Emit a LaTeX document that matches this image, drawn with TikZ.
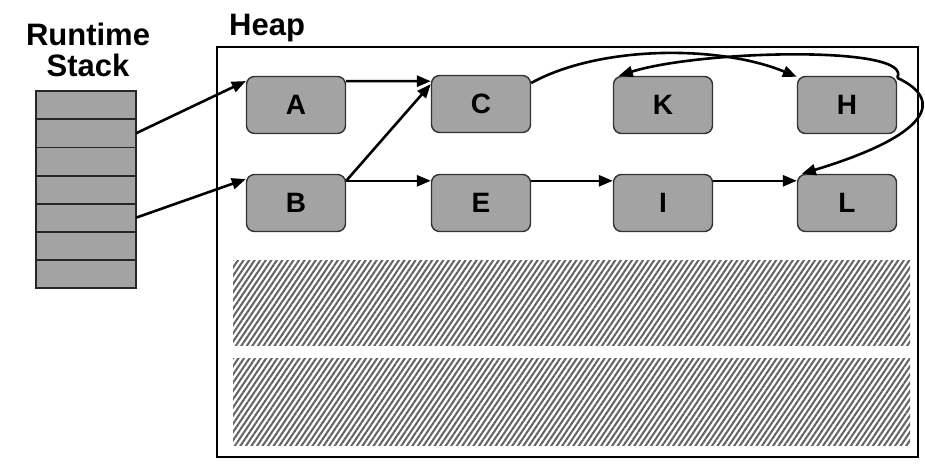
\documentclass[tikz,border=0pt]{standalone}
\usepackage{fontspec}
\setmainfont{Liberation Sans}
\usetikzlibrary{arrows.meta,patterns.meta,calc}
\begin{document}
\begin{tikzpicture}[x=1pt,y=-1pt,
  obj/.style={draw=black!80,line width=1.4pt,fill=black!36,rounded corners=8pt,
    minimum width=99pt,minimum height=57pt,inner sep=0pt,font=\fontsize{28}{32}\selectfont\bfseries},
  cell/.style={fill=black!36,minimum width=100pt,minimum height=28.14pt,inner sep=0pt},
  cellline/.style={draw=black!85,line width=1.8pt},
  ptr/.style={line width=2.6pt,-{Triangle[length=14pt,width=11pt]}},
  hatch/.style={pattern={Lines[angle=56,distance=4.6pt,line width=2pt]},pattern color=black!62},
  lbl/.style={font=\fontsize{31}{35}\selectfont\bfseries,inner sep=0pt}]
\useasboundingbox (0,0) rectangle (925,465);
% labels
\node[lbl,anchor=base] (rt) at (88,46) {Runtime};
\node[lbl,anchor=base] (st) at (88,77) {Stack};
\node[lbl,anchor=base west] (hp) at (229,36) {Heap};
% heap box
\draw[line width=2pt] (217,47) rectangle (918,457);
% hatched areas
\path[hatch] (233,260) rectangle (910,345);
\path[hatch] (233,358) rectangle (910,445);
% stack
\foreach \i in {1,...,7}{
  \node[cell] (s\i) at (86,{91+28.14*(\i-0.5)}) {};
}
\draw[cellline] (s1.north west) rectangle (s7.south east);
\foreach \i in {1,...,6}{
  \draw[cellline] (s\i.south west) -- (s\i.south east);
}
% objects
\node[obj] (A) at (296,105) {A};
\node[obj] (C) at (481,104) {C};
\node[obj] (K) at (663,105) {K};
\node[obj] (H) at (847,105) {H};
\node[obj] (B) at (296,203) {B};
\node[obj] (E) at (481,203) {E};
\node[obj] (I) at (663,203) {I};
\node[obj] (L) at (847,203) {L};
% pointers
\draw[ptr] (s2.east) -- ($(A.north west)!0.09!(A.south west)$);
\draw[ptr] (s5.east) -- ($(B.north west)!0.09!(B.south west)$);
\draw[ptr] ($(A.north east)!0.09!(A.south east)$) -- ($(C.north west)!0.11!(C.south west)$);
\draw[ptr] ($(B.north east)!0.12!(B.south east)$) -- ($(C.north west)!0.16!(C.south west)$);
\draw[ptr] ($(B.north east)!0.12!(B.south east)$) -- ($(E.north west)!0.12!(E.south west)$);
\draw[ptr] ($(E.north east)!0.12!(E.south east)$) -- ($(I.north west)!0.12!(I.south west)$);
\draw[ptr] ($(I.north east)!0.12!(I.south east)$) -- ($(L.north west)!0.12!(L.south west)$);
\draw[ptr] ($(C.north east)!0.14!(C.south east)$) .. controls (600,45) and (720,45) .. ($(H.north west)+(0,1)$);
\draw[ptr] ($(H.north east)+(0,2)$) .. controls (915,45) and (700,50) .. ($(K.north west)+(6,0)$);
\draw[ptr] ($(H.north east)+(0,2)$) .. controls (945,100) and (930,135) .. ($(L.north west)+(5,0)$);
\end{tikzpicture}
\end{document}
